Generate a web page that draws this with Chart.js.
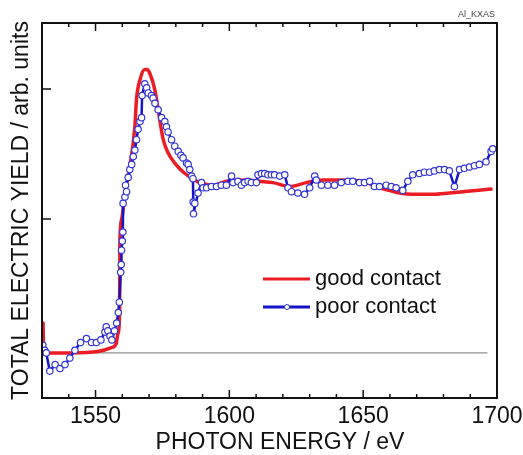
<!DOCTYPE html>
<html>
<head>
  <title>Al K-edge total electron yield</title>
  <script src="https://cdn.jsdelivr.net/npm/chart.js"></script>
  <style>
    body { margin: 0; background: #fff; }
  </style>
</head>
<body>
  <canvas id="myChart" width="523" height="455"></canvas>
  <script>
    // values (energy in eV, yield in arb. units)
    const goodEnergy = [1530.4, 1530.6, 1532.2, 1540.9, 1550.9, 1555.9, 1557.7, 1558.4, 1559.0, 1559.1,
      1559.7, 1561.0, 1562.8, 1564.7, 1565.3, 1566.6, 1568.4, 1569.2, 1570.3, 1572.2,
      1573.4, 1575.3, 1577.1, 1579.6, 1583.4, 1587.1, 1589.0, 1593.9, 1598.9, 1606.4,
      1611.3, 1616.3, 1622.5, 1628.8, 1635.0, 1641.2, 1649.9, 1654.9, 1659.8, 1663.6,
      1668.5, 1676.0, 1682.2, 1687.2, 1692.2, 1697.8];
    const goodYield = [0.20, -0.01, -0.03, -0.03, -0.02, 0.01, 0.04, 0.12, 0.28, 0.82,
      0.99, 1.20, 1.40, 1.71, 1.92, 2.07, 2.15, 2.15, 2.12, 1.99,
      1.84, 1.61, 1.51, 1.43, 1.35, 1.30, 1.28, 1.26, 1.29, 1.30,
      1.29, 1.28, 1.25, 1.28, 1.30, 1.30, 1.29, 1.25, 1.22, 1.20,
      1.19, 1.19, 1.20, 1.21, 1.22, 1.23];

    const poorEnergy = [1530.3, 1531.0, 1531.6, 1532.9, 1534.9, 1536.7, 1538.6, 1540.4, 1542.3, 1544.4,
      1546.6, 1548.5, 1550.3, 1552.0, 1553.5, 1554.0, 1554.6, 1555.4, 1556.1, 1557.1,
      1557.9, 1558.5, 1558.9, 1559.4, 1559.6, 1559.7, 1560.0, 1560.2, 1560.3, 1561.0,
      1561.6, 1561.2, 1562.2, 1562.8, 1563.5, 1564.1, 1564.7, 1565.3, 1565.9, 1566.6,
      1567.2, 1567.4, 1568.4, 1569.1, 1569.7, 1570.9, 1571.5, 1572.2, 1573.4, 1574.7,
      1575.9, 1576.5, 1577.1, 1578.4, 1579.6, 1580.9, 1581.9, 1582.7, 1584.0, 1584.6,
      1585.2, 1585.9, 1586.4, 1586.5, 1587.1, 1586.6, 1588.3, 1589.6, 1590.2, 1591.5,
      1593.3, 1595.2, 1597.0, 1598.9, 1600.8, 1601.4, 1603.2, 1604.5, 1605.7, 1607.0,
      1608.2, 1610.1, 1610.7, 1612.0, 1613.2, 1614.4, 1615.7, 1616.9, 1618.8, 1620.7,
      1621.9, 1623.2, 1625.6, 1628.1, 1630.0, 1631.9, 1632.5, 1634.4, 1636.8, 1639.3,
      1641.8, 1644.3, 1646.1, 1648.6, 1650.5, 1652.4, 1654.2, 1656.1, 1658.6, 1660.5,
      1662.3, 1664.8, 1666.7, 1668.5, 1671.0, 1672.9, 1674.8, 1676.6, 1678.5, 1680.4,
      1682.2, 1684.1, 1686.0, 1687.8, 1689.7, 1691.6, 1693.4, 1695.9, 1697.8, 1698.4];
    const poorYield = [0.03, -0.01, -0.03, -0.17, -0.12, -0.15, -0.12, -0.07, -0.01, 0.05,
      0.08, 0.05, 0.05, 0.07, 0.13, 0.17, 0.14, 0.10, 0.07, 0.14,
      0.20, 0.28, 0.36, 0.59, 0.65, 0.76, 0.83, 0.90, 1.12, 1.17,
      1.21, 1.26, 1.32, 1.38, 1.42, 1.48, 1.53, 1.61, 1.69, 1.75,
      1.78, 1.95, 2.04, 2.01, 1.97, 1.95, 1.93, 1.89, 1.84, 1.78,
      1.75, 1.71, 1.67, 1.61, 1.56, 1.52, 1.49, 1.47, 1.43, 1.42,
      1.38, 1.33, 1.31, 1.13, 1.12, 1.04, 1.20, 1.28, 1.24, 1.24,
      1.25, 1.25, 1.26, 1.26, 1.33, 1.28, 1.29, 1.26, 1.28, 1.29,
      1.28, 1.28, 1.34, 1.35, 1.35, 1.34, 1.34, 1.34, 1.33, 1.34,
      1.24, 1.21, 1.20, 1.19, 1.24, 1.33, 1.30, 1.26, 1.26, 1.26,
      1.28, 1.29, 1.29, 1.28, 1.28, 1.29, 1.25, 1.25, 1.26, 1.25,
      1.24, 1.22, 1.29, 1.34, 1.35, 1.36, 1.36, 1.37, 1.38, 1.38,
      1.37, 1.25, 1.38, 1.39, 1.40, 1.41, 1.42, 1.44, 1.52, 1.54];

    const baseEnergy = [1530, 1696.4];
    const baseYield = [-0.03, -0.03];

    const xTickLabels = [1550, 1600, 1650, 1700];
    const yTickValues = [1, 2];
    const seriesLabels = ['good contact', 'poor contact'];

    const FONT = "'Liberation Sans', Arial, sans-serif";
    const RED = '#ec1c24';
    const BLUE = '#1414c8';

    function zip(xs, ys) {
      return xs.map((v, i) => ({ x: v, y: ys[i] }));
    }

    // box, inward ticks, legend and extra labels
    const decor = {
      id: 'decor',
      afterDatasetsDraw(chart) {
        const ctx = chart.ctx;
        const a = chart.chartArea;
        const x = chart.scales.x;
        const y = chart.scales.y;
        ctx.save();

        ctx.strokeStyle = '#111';
        ctx.lineWidth = 1.5;
        ctx.beginPath();
        for (let e = 1540; e < 1700; e += 10) {
          const px = x.getPixelForValue(e);
          const len = e % 50 === 0 ? 8 : 4;
          ctx.moveTo(px, a.bottom);
          ctx.lineTo(px, a.bottom - len);
          ctx.moveTo(px, a.top);
          ctx.lineTo(px, a.top + len);
        }
        yTickValues.forEach(v => {
          const py = y.getPixelForValue(v);
          ctx.moveTo(a.left, py);
          ctx.lineTo(a.left + 9, py);
        });
        ctx.stroke();

        ctx.lineWidth = 2;
        ctx.strokeRect(a.left, a.top, a.right - a.left, a.bottom - a.top);

        // legend
        const lx = a.left + 221, ly = a.top + 256;
        ctx.font = '22px ' + FONT;
        ctx.textBaseline = 'middle';
        ctx.fillStyle = '#111';
        ctx.lineWidth = 3;
        ctx.strokeStyle = RED;
        ctx.beginPath();
        ctx.moveTo(lx, ly); ctx.lineTo(lx + 47, ly);
        ctx.stroke();
        ctx.fillText(seriesLabels[0], lx + 52, ly);
        ctx.strokeStyle = BLUE;
        ctx.beginPath();
        ctx.moveTo(lx, ly + 28); ctx.lineTo(lx + 47, ly + 28);
        ctx.stroke();
        ctx.beginPath();
        ctx.arc(lx + 24, ly + 28, 2.5, 0, Math.PI * 2);
        ctx.fillStyle = '#fff';
        ctx.fill();
        ctx.lineWidth = 1;
        ctx.strokeStyle = '#3535d8';
        ctx.stroke();
        ctx.fillStyle = '#111';
        ctx.fillText(seriesLabels[1], lx + 52, ly + 28);

        // x axis title
        ctx.textAlign = 'center';
        ctx.font = '23px ' + FONT;
        ctx.fillText('PHOTON ENERGY / eV', 280, 443);

        ctx.textAlign = 'right';
        ctx.font = '9px ' + FONT;
        ctx.fillStyle = '#444';
        ctx.fillText('Al_KXAS', 495, 15);
        ctx.restore();
      }
    };

    var ctx = document.getElementById('myChart').getContext('2d');
    var myChart = new Chart(ctx, {
      type: 'line',
      data: {
        datasets: [
          {
            label: seriesLabels[1],
            data: zip(poorEnergy, poorYield),
            borderColor: BLUE,
            borderWidth: 2.5,
            tension: 0,
            pointRadius: 3.2,
            pointBorderWidth: 1.2,
            pointBackgroundColor: '#fff',
            pointBorderColor: '#3535d8',
            order: 0
          },
          {
            label: seriesLabels[0],
            data: zip(goodEnergy, goodYield),
            borderColor: RED,
            borderWidth: 3.5,
            cubicInterpolationMode: 'monotone',
            pointRadius: 0,
            borderJoinStyle: 'round',
            borderCapStyle: 'round',
            order: 1
          },
          {
            label: 'baseline',
            data: zip(baseEnergy, baseYield),
            borderColor: '#777',
            borderWidth: 1,
            pointRadius: 0,
            order: 2
          }
        ]
      },
      options: {
        responsive: false,
        animation: false,
        devicePixelRatio: 1,
        layout: { padding: { top: 23, right: 26, left: 0, bottom: 0 } },
        plugins: { legend: { display: false }, tooltip: { enabled: false } },
        scales: {
          x: {
            type: 'linear',
            min: 1530,
            max: 1700,
            grid: { display: false, drawTicks: false },
            border: { display: false },
            afterBuildTicks: s => { s.ticks = xTickLabels.map(v => ({ value: v })); },
            afterFit: s => { s.height = 57; s.paddingLeft = 0; s.paddingRight = 0; },
            ticks: {
              font: { family: FONT, size: 23 },
              color: '#111',
              padding: 5,
              maxRotation: 0,
              autoSkip: false,
              callback: v => String(v)
            }
          },
          y: {
            min: -0.377,
            max: 2.508,
            grid: { display: false, drawTicks: false },
            border: { display: false },
            ticks: { display: false },
            afterFit: s => { s.width = 42; },
            title: {
              display: true,
              text: 'TOTAL ELECTRIC YIELD / arb. units',
              font: { family: FONT, size: 23 },
              color: '#111',
              padding: { top: 8, bottom: 0 }
            }
          }
        }
      },
      plugins: [decor]
    });
  </script>
</body>
</html>
